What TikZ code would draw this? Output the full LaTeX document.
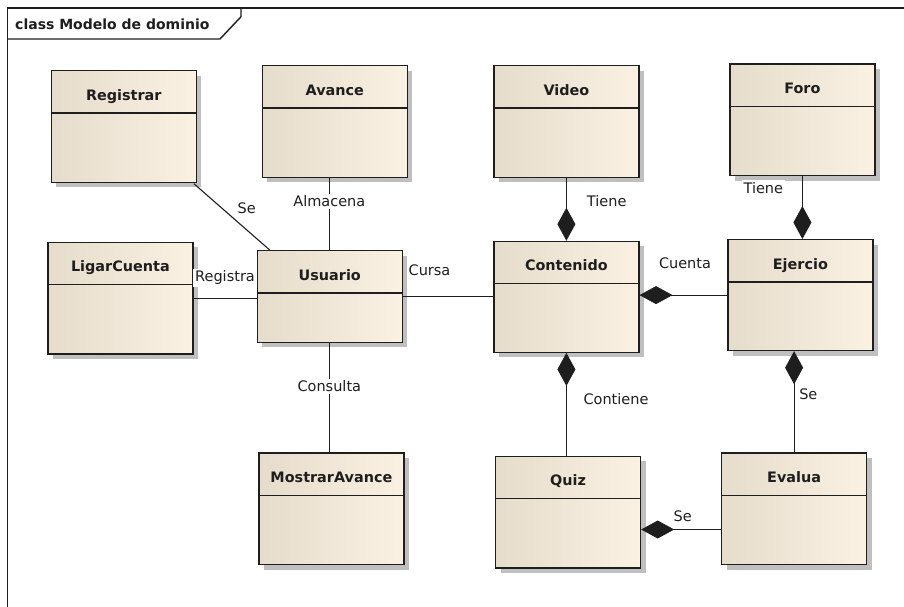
\documentclass[tikz,border=0pt]{standalone}
\usepackage{fontspec}
\setmainfont{DejaVu Sans}
\usetikzlibrary{shadows,calc,arrows.meta}
\definecolor{boxL}{RGB}{230,220,203}
\definecolor{boxR}{RGB}{251,241,227}
\definecolor{ink}{RGB}{30,30,30}
\tikzset{
  cls/.style={draw=ink, line width=1.2pt, rectangle, left color=boxL, right color=boxR,
    minimum width=145pt, anchor=north west, inner sep=0pt,
    drop shadow={shadow xshift=5pt, shadow yshift=-5pt, fill=black!25, opacity=1}},
  sepl/.style={draw=ink, line width=1.2pt},
  clsname/.style={font=\fontsize{14.4}{16}\selectfont\bfseries, text=ink, anchor=base, inner sep=0pt},
  lbl/.style={font=\fontsize{14.5}{16}\selectfont, text=ink, anchor=base, inner sep=2pt, fill=white},
  conn/.style={draw=ink, line width=1.1pt},
  comp/.style={conn, -{Diamond[length=33pt,width=18pt,fill=ink]}},
  compst/.style={conn, {Diamond[length=33pt,width=18pt,fill=ink]}-},
  frameline/.style={draw=ink, line width=1.4pt}
}
\newcommand\umlbox[5]{%
  \node[cls, minimum height=#5pt] (#1) at (#2,#3) {};
  \draw[sepl] ($(#1.north west)+(0,43)$) -- ($(#1.north east)+(0,43)$);
  \node[clsname] (#1-t) at ($(#1.north)+(0,30)$) {#4};
}
\begin{document}
\begin{tikzpicture}[x=1pt,y=-1pt]
\useasboundingbox (0,0) rectangle (904,606);
\fill[white] (0,0) rectangle (904,606);
% frame
\draw[frameline] (7.5,610) -- (7.5,8) -- (910,8);
\draw[frameline] (241,8) -- (241,16.7) -- (220,39) -- (7.5,39);
\node[font=\fontsize{14}{16}\selectfont\bfseries, text=ink, anchor=base west, inner sep=0pt] (title) at (15,29.5) {class Modelo de dominio};
% classes
\umlbox{reg}{50.7}{70}{Registrar}{111.5}
\umlbox{ava}{261.7}{65}{Avance}{111.7}
\umlbox{lig}{47.3}{241.7}{LigarCuenta}{111.6}
\umlbox{usr}{256.7}{250}{Usuario}{91.7}
\umlbox{vid}{493.3}{65}{Video}{111.7}
\umlbox{foro}{729.3}{63.3}{Foro}{111.7}
\umlbox{cont}{493.3}{240.7}{Contenido}{111}
\umlbox{ej}{727.3}{239}{Ejercio}{111}
\umlbox{most}{258.3}{452.3}{MostrarAvance}{111.7}
\umlbox{quiz}{495}{455.7}{Quiz}{111.6}
\umlbox{ev}{721}{452.3}{Evalua}{111.7}
% connectors
\draw[conn] ($(reg.south east)+(-3,1)$) -- ($(usr.north west)+(13,0)$);
\draw[conn] (ava.south -| usr.north) -- (usr.north);
\draw[conn] (lig.east) -- (lig.east -| usr.west);
\draw[conn] (usr.east) -- (usr.east -| cont.west);
\draw[conn] (usr.south) -- (usr.south |- most.north);
\draw[comp] (vid.south) -- (cont.north);
\draw[comp] (foro.south) -- (foro.south |- ej.north);
\draw[comp] (ej.west) -- (ej.west -| cont.east);
\draw[compst] (cont.south) -- (cont.south |- quiz.north);
\draw[comp] (ev.north) -- (ev.north |- ej.south);
\coordinate (evq) at ($(ev.south west)+(0,-35.7)$);
\draw[comp] (evq) -- (evq -| quiz.east);
% labels
\node[lbl] (l1) at (246.7,213.3) {Se};
\node[lbl] (l2) at (329.3,206.7) {Almacena};
\node[lbl] (l3) at (225,281.7) {Registra};
\node[lbl] (l4) at (429.5,275.7) {Cursa};
\node[lbl] (l5) at (329.3,391.7) {Consulta};
\node[lbl] (l6) at (606.7,206.7) {Tiene};
\node[lbl] (l7) at (763.3,193.3) {Tiene};
\node[lbl] (l8) at (685,268.3) {Cuenta};
\node[lbl] (l9) at (616,404.3) {Contiene};
\node[lbl] (l10) at (808.3,399.3) {Se};
\node[lbl] (l11) at (682.7,521) {Se};
\end{tikzpicture}
\end{document}
